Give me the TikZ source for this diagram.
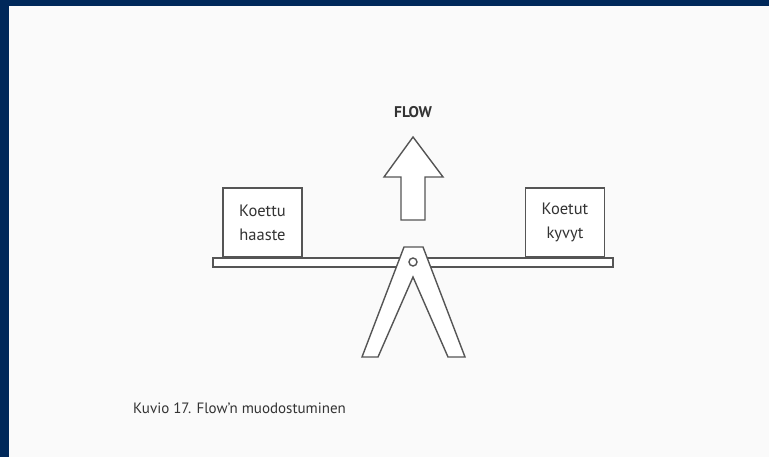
\documentclass[tikz,border=0pt]{standalone}
\usepackage{fontspec}
\setmainfont{PT Sans}
\definecolor{navy}{HTML}{00285A}
\definecolor{ink}{HTML}{555555}
\definecolor{txt}{HTML}{333333}
\definecolor{paper}{HTML}{FAFAFA}
\begin{document}
\begin{tikzpicture}[x=1pt,y=-1pt,
  outline/.style={draw=ink,line width=1.4pt,line join=miter},
  weightbox/.style={outline,fill=white,minimum width=79pt,minimum height=69pt,inner sep=0pt,align=center,font=\fontsize{16.5}{24}\selectfont,text=txt}]
\useasboundingbox (0,0) rectangle (769,457);
\fill[paper] (0,0) rectangle (769,457);
\fill[navy] (0,0) rectangle (769,6);
\fill[navy] (0,0) rectangle (9,457);
% beam
\draw[outline,fill=white] (213,258) rectangle (613,267);
% boxes
\node[weightbox] (left) at (262.5,222.5) {Koettu\\haaste};
\node[weightbox] (right) at (565,222.5) {Koetut\\kyvyt};
% fulcrum
\draw[outline,fill=white] (404,247) -- (423,247) -- (465,357) -- (448,357) -- (413,277) -- (378,357) -- (362,357) -- cycle;
\draw[outline,fill=white] (413,262) circle (4);
% arrow
\draw[outline,fill=white] (401,220) -- (401,177) -- (384,177) -- (413,137) -- (443,177) -- (425,177) -- (425,220) -- cycle;
\node[font=\bfseries\fontsize{15.5}{18}\selectfont,text=txt] (flow) at (413,112) {FLOW};
\node[anchor=west,font=\fontsize{15}{17}\selectfont,text=txt,inner sep=0pt] (caption) at (133,408) {Kuvio 17. Flow’n muodostuminen};
\end{tikzpicture}
\end{document}
